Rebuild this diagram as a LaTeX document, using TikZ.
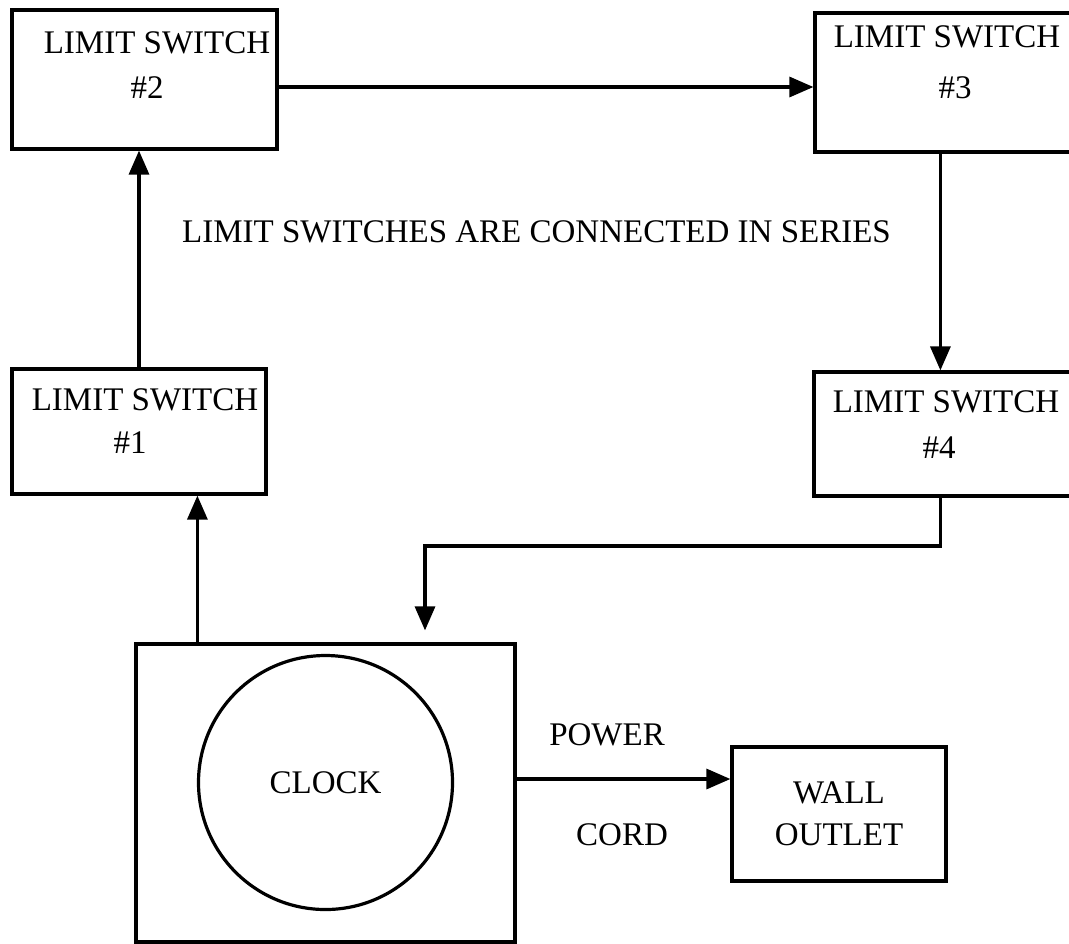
\documentclass[tikz,border=0pt]{standalone}
\usepackage{fontspec}
\setmainfont{Liberation Serif}
\usetikzlibrary{arrows.meta,positioning}
\tikzset{
  box/.style={draw,line width=1.6pt,inner sep=0pt},
  lbl/.style={inner sep=0pt,font=\fontsize{16.5}{21}\selectfont,align=center},
  wire/.style={line width=1.6pt,-{Triangle[length=12pt,width=10pt]}}
}
\begin{document}
\begin{tikzpicture}[x=0.5pt,y=-0.5pt]
\useasboundingbox (0,0) rectangle (1069,943);
\clip (0,0) rectangle (1069,943);
% limit switch boxes
\node[box,minimum width=127pt,minimum height=62.5pt] (sw1) at (139,431.5) {};
\node[box,minimum width=132.5pt,minimum height=69.5pt] (sw2) at (144.5,79.5) {};
\node[box,minimum width=140pt,minimum height=69.5pt] (sw3) at (955,82.5) {};
\node[box,minimum width=138pt,minimum height=62pt] (sw4) at (952,434) {};
\foreach \n/\xa/\ya/\xb/\yb in {1/145/400/130/443,2/157/43/147/88,3/947/37/955/88,4/946/402/939/448}{
  \node[lbl] (sw\n t) at (\xa,\ya) {LIMIT SWITCH};
  \node[lbl] (sw\n n) at (\xb,\yb) {\#\n};
}
\node[lbl] (note) at (536.5,232) {LIMIT SWITCHES ARE CONNECTED IN SERIES};
% clock and outlet
\node[box,minimum width=189.5pt,minimum height=149pt] (clk) at (325.5,793) {};
\node[box,circle,minimum size=127pt,font=\fontsize{16.5}{21}\selectfont] (dial) at (325.5,782.5) {CLOCK};
\node[box,lbl,draw,minimum width=107pt,minimum height=67pt] (outlet) at (839,814) {WALL\\OUTLET};
\node[lbl] (power) at (607,735) {POWER};
\node[lbl] (cord) at (622,835) {CORD};
% wiring
\coordinate (bend) at (425,546);
\draw[wire] ([xshift=31.5pt]clk.north west) -- ([xshift=31.5pt]clk.north west |- sw1.south);
\draw[wire] (sw1.north) -- (sw1.north |- sw2.south);
\draw[wire] ([yshift=-3.75pt]sw2.east) -- ([yshift=-3.75pt]sw2.east -| sw3.west);
\draw[wire] ([xshift=63.5pt]sw3.south west) -- ([xshift=63.5pt]sw3.south west |- sw4.north);
\draw[wire] ([xshift=64pt]sw4.south west) |- (bend) -- ([yshift=6pt]bend |- clk.north);
\draw[wire] ([yshift=7pt]clk.east) -- ([yshift=7pt]clk.east -| outlet.west);
\end{tikzpicture}
\end{document}
